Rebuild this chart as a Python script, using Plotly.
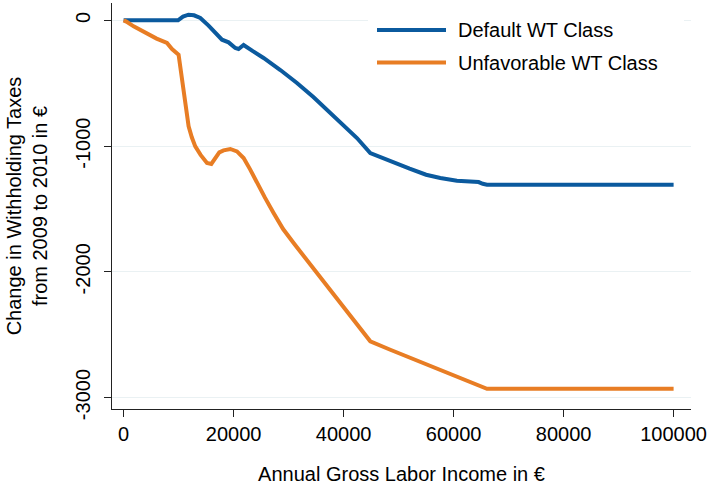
import plotly.graph_objects as go

income_default = [0, 9900, 10800, 11800, 12800, 13950, 15450, 16670, 17890, 19090, 20310, 20900,
                  21820, 23500, 25450, 28500, 31520, 34500, 37580, 40000, 42430, 44850, 48490,
                  52000, 55000, 57580, 60600, 64550, 65300, 66070, 100000]
change_default = [0, 0, 30, 45, 40, 19, -42, -100, -154, -175, -220, -228,
                  -196, -245, -299, -395, -498, -610, -737, -836, -936, -1055, -1122,
                  -1180, -1228, -1254, -1275, -1286, -1300, -1307, -1307]

income_unfav = [0, 500, 1820, 4000, 6000, 7890, 8800, 10000, 11820, 12400, 13030, 14000, 15160,
                15950, 16700, 17400, 18180, 19400, 20610, 21820, 23000, 24250, 25700, 27270,
                29000, 30910, 33000, 35160, 37500, 40000, 42500, 44850, 48490, 55000, 60000,
                66070, 100000]
change_unfav = [0, -10, -48, -100, -145, -180, -228, -273, -843, -930, -1002, -1070, -1134,
                -1142, -1100, -1050, -1034, -1023, -1042, -1095, -1185, -1293, -1410, -1532,
                -1660, -1771, -1890, -2009, -2145, -2288, -2425, -2553, -2620, -2735, -2825,
                -2930, -2930]

series_names = ["Default WT Class", "Unfavorable WT Class"]
series_colors = ["#0b5a9e", "#e87d24"]

x_ticks = [0, 20000, 40000, 60000, 80000, 100000]
y_ticks = [0, -1000, -2000, -3000]

FONT = "Liberation Sans, Arial, sans-serif"

fig = go.Figure()
for xs, ys, name, col in [(income_default, change_default, series_names[0], series_colors[0]),
                          (income_unfav, change_unfav, series_names[1], series_colors[1])]:
    fig.add_trace(go.Scatter(x=xs, y=ys, mode="lines", name=name,
                             line=dict(color=col, width=4),
                             showlegend=False))

# plot area in pixels
L, R, T, B = 112, 691, 3, 409
PW, PH = R - L, B - T

def px(xp):
    return (xp - L) / PW

def py(yp):
    return (B - yp) / PH

# custom legend
fig.add_shape(type="rect", xref="paper", yref="paper", x0=px(368), x1=px(684),
              y0=py(85), y1=py(5), fillcolor="white", line=dict(width=0),
              layer="above")
for i, (name, col) in enumerate(zip(series_names, series_colors)):
    ypx = 30 + i * 32.5
    fig.add_shape(type="line", xref="paper", yref="paper",
                  x0=px(377), x1=px(446), y0=py(ypx), y1=py(ypx),
                  line=dict(color=col, width=4), layer="above")
    fig.add_annotation(xref="paper", yref="paper", x=px(456), y=py(ypx), text=name,
                       showarrow=False, xanchor="left", yanchor="middle",
                       font=dict(family=FONT, size=20, color="black"))

fig.update_layout(
    width=710, height=489,
    margin=dict(l=L, r=710 - R, t=T, b=489 - B),
    paper_bgcolor="white", plot_bgcolor="white",
    font=dict(family=FONT, size=20, color="black"),
)
fig.update_xaxes(range=[-2109, 103164], tickvals=x_ticks, ticktext=[str(v) for v in x_ticks],
                 automargin=False,
                 showgrid=False, zeroline=False, showline=True, linecolor="#222", linewidth=1,
                 ticks="outside", ticklen=7, tickcolor="#222",
                 title=dict(text="Annual Gross Labor Income in €", standoff=22,
                            font=dict(size=20)))
fig.update_yaxes(range=[-3091, 138], tickvals=y_ticks, ticktext=[str(v) for v in y_ticks],
                 automargin=False,
                 tickangle=-90, ticklabelstandoff=6, showgrid=True, gridcolor="#eaf1f3", gridwidth=1,
                 zeroline=False, showline=True, linecolor="#222", linewidth=1,
                 ticks="outside", ticklen=7, tickcolor="#222",
                 title=dict(text="Change in Withholding Taxes<br>from 2009 to 2010 in €",
                            standoff=19, font=dict(size=20)))

fig.write_html("out.html", config={"displayModeBar": False},
               post_script="document.body.style.margin='0';")
